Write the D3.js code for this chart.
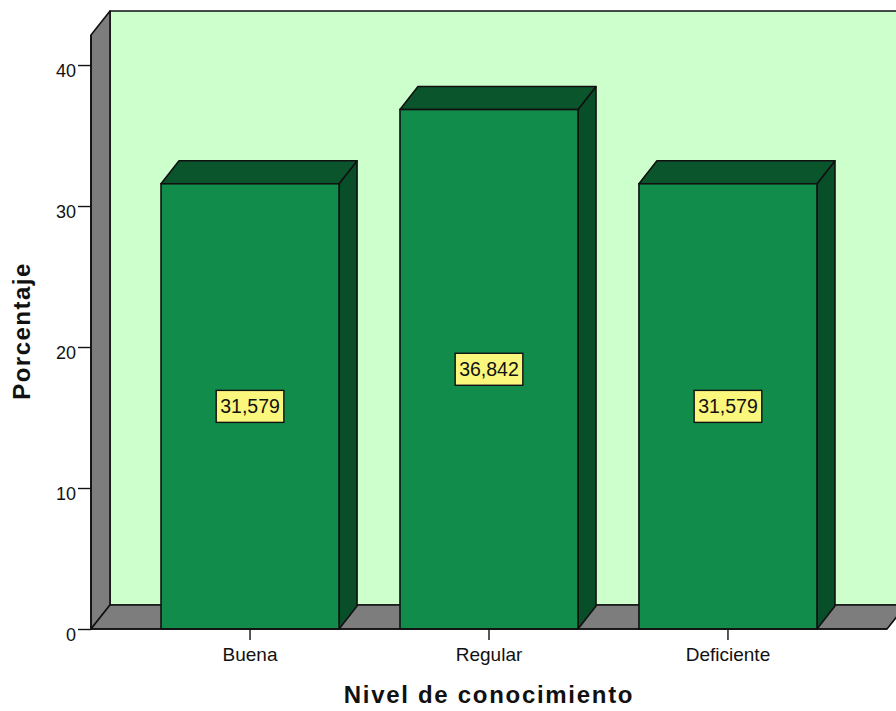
<!DOCTYPE html>
<html>
<head>
<meta charset="utf-8">
<script src="https://cdn.jsdelivr.net/npm/d3@7"></script>
<style>
  html, body { margin: 0; padding: 0; background: #ffffff; }
  svg { display: block; font-family: Arial, "Liberation Sans", sans-serif; }
</style>
</head>
<body>
<svg id="chart" width="896" height="711"></svg>
<script>
// Nivel de conocimiento — porcentaje por categoría
const categories = ["Buena", "Regular", "Deficiente"];
const percentages = [31.579, 36.842, 31.579];
const yTickValues = [0, 10, 20, 30, 40];

const xTitle = "Nivel de conocimiento";
const yTitle = "Porcentaje";

const W = 896, H = 711;
const baseY = 629;          // front edge of the floor (value 0)
const topY = 35;            // front top of the left wall
const axisMax = 42.13;      // value reached by the top of the walls
const wallDepth = { dx: 19, dy: -24 };
const barDepth = { dx: 18, dy: -23 };

const colors = {
  backWall: "#ccffcc",
  sideWall: "#7d7d7d",
  barFront: "#118c4a",
  barTop: "#0b552c",
  barSide: "#084e28",
  labelFill: "#fbf77c",
  edge: "#111111"
};

const svg = d3.select("#chart");

const y = d3.scaleLinear().domain([0, axisMax]).range([baseY, topY]);
const x = d3.scaleBand()
  .domain(categories)
  .range([91, 887])
  .paddingInner(0.255)
  .paddingOuter(0.293);

const x0 = x.range()[0], x1 = x.range()[1];
const line = d3.line();

// ---- 3D frame: back wall, left wall, floor
const g = svg.append("g");

g.append("path")
  .attr("d", line([
    [x0 + wallDepth.dx, y(axisMax) + wallDepth.dy],
    [x1 + wallDepth.dx + 40, y(axisMax) + wallDepth.dy],
    [x1 + wallDepth.dx + 40, baseY + wallDepth.dy],
    [x0 + wallDepth.dx, baseY + wallDepth.dy]
  ]) + "Z")
  .attr("fill", colors.backWall)
  .attr("stroke", colors.edge)
  .attr("stroke-width", 1.6)
  .attr("stroke-linejoin", "round");

g.append("path")
  .attr("d", line([
    [x0, baseY],
    [x0, y(axisMax)],
    [x0 + wallDepth.dx, y(axisMax) + wallDepth.dy],
    [x0 + wallDepth.dx, baseY + wallDepth.dy]
  ]) + "Z")
  .attr("fill", colors.sideWall)
  .attr("stroke", colors.edge)
  .attr("stroke-width", 1.6)
  .attr("stroke-linejoin", "round");

g.append("path")
  .attr("d", line([
    [x0, baseY],
    [x1, baseY],
    [x1 + wallDepth.dx, baseY + wallDepth.dy],
    [x0 + wallDepth.dx, baseY + wallDepth.dy]
  ]) + "Z")
  .attr("fill", colors.sideWall)
  .attr("stroke", colors.edge)
  .attr("stroke-width", 1.6)
  .attr("stroke-linejoin", "round");

// ---- Bars (front, top and right side faces)
const data = categories.map((c, i) => ({ cat: c, value: percentages[i] }));
const bw = x.bandwidth();

const bars = g.selectAll("g.bar").data(data).join("g").attr("class", "bar");

bars.append("path")
  .attr("d", d => {
    const xl = x(d.cat), yv = y(d.value);
    return line([
      [xl + bw, yv],
      [xl + bw + barDepth.dx, yv + barDepth.dy],
      [xl + bw + barDepth.dx, baseY + barDepth.dy],
      [xl + bw, baseY]
    ]) + "Z";
  })
  .attr("fill", colors.barSide)
  .attr("stroke", colors.edge)
  .attr("stroke-width", 1.6)
  .attr("stroke-linejoin", "round");

bars.append("path")
  .attr("d", d => {
    const xl = x(d.cat), yv = y(d.value);
    return line([
      [xl, yv],
      [xl + barDepth.dx, yv + barDepth.dy],
      [xl + bw + barDepth.dx, yv + barDepth.dy],
      [xl + bw, yv]
    ]) + "Z";
  })
  .attr("fill", colors.barTop)
  .attr("stroke", colors.edge)
  .attr("stroke-width", 1.6)
  .attr("stroke-linejoin", "round");

bars.append("rect")
  .attr("x", d => x(d.cat))
  .attr("y", d => y(d.value))
  .attr("width", bw)
  .attr("height", d => baseY - y(d.value))
  .attr("fill", colors.barFront)
  .attr("stroke", colors.edge)
  .attr("stroke-width", 1.6);

// ---- Value labels in yellow boxes
const esLocale = d3.formatLocale({ decimal: ",", thousands: ".", grouping: [3], currency: ["", " €"] });
const fmt = esLocale.format(".3f");

const labels = g.selectAll("g.vlabel").data(data).join("g")
  .attr("class", "vlabel")
  .attr("transform", d => `translate(${x(d.cat) + bw / 2},${y(d.value / 2)})`);

labels.append("rect")
  .attr("fill", colors.labelFill)
  .attr("stroke", colors.edge)
  .attr("stroke-width", 1.4);

const labelTexts = labels.append("text")
  .attr("text-anchor", "middle")
  .attr("dy", "0.36em")
  .attr("font-size", 19.5)
  .attr("fill", "#111")
  .text(d => fmt(d.value));

labelTexts.each(function () {
  const w = this.getComputedTextLength();
  d3.select(this.previousSibling)
    .attr("x", -w / 2 - 4)
    .attr("y", -16)
    .attr("width", w + 8)
    .attr("height", 32);
});

// ---- Axes
const yAxis = d3.axisLeft(y)
  .tickValues(yTickValues)
  .tickSize(13)
  .tickPadding(2)
  .tickFormat(d3.format("d"));

const yg = svg.append("g")
  .attr("transform", `translate(${x0},0)`)
  .call(yAxis);
yg.select(".domain").attr("stroke", colors.edge).attr("stroke-width", 1.6)
  .attr("d", `M0,${baseY}V${y(axisMax)}`);
yg.selectAll(".tick line").attr("stroke", colors.edge).attr("stroke-width", 1.4);
yg.selectAll(".tick text")
  .attr("font-size", 18)
  .attr("font-family", "Arial, 'Liberation Sans', sans-serif")
  .attr("fill", "#111")
  .attr("dy", "0.62em");

const xAxis = d3.axisBottom(x).tickSize(11).tickPadding(8);
const xg = svg.append("g")
  .attr("transform", `translate(0,${baseY})`)
  .call(xAxis);
xg.select(".domain").remove();
xg.selectAll(".tick line").attr("stroke", colors.edge).attr("stroke-width", 1.4);
xg.selectAll(".tick text")
  .attr("font-size", 19)
  .attr("font-family", "Arial, 'Liberation Sans', sans-serif")
  .attr("fill", "#111");

// Redraw the front floor edge on top
svg.append("path")
  .attr("d", line([[x0, baseY], [x1, baseY]]))
  .attr("stroke", colors.edge)
  .attr("stroke-width", 1.6);

// ---- Axis titles
svg.append("text")
  .attr("x", 489)
  .attr("y", 703)
  .attr("text-anchor", "middle")
  .attr("font-size", 24)
  .attr("font-weight", "bold")
  .attr("letter-spacing", 1.7)
  .attr("fill", "#111")
  .text(xTitle);

svg.append("text")
  .attr("transform", "translate(30,331) rotate(-90)")
  .attr("text-anchor", "middle")
  .attr("font-size", 24)
  .attr("font-weight", "bold")
  .attr("letter-spacing", 1.5)
  .attr("fill", "#111")
  .text(yTitle);
</script>
</body>
</html>
